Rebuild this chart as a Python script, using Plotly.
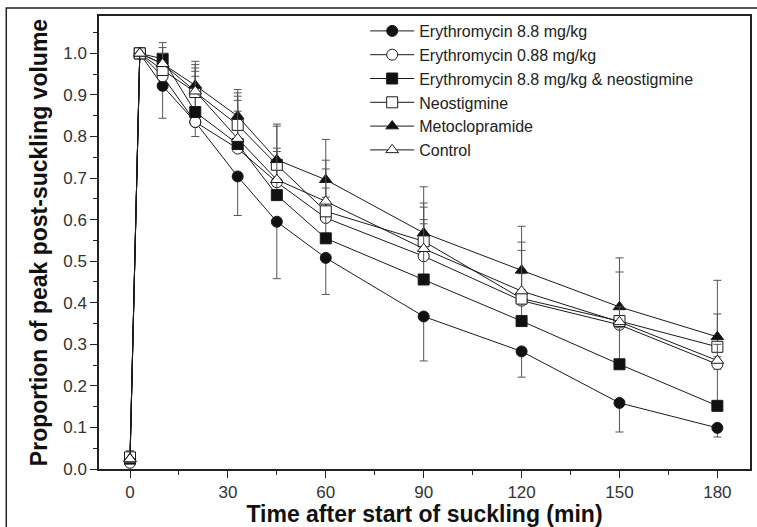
import plotly.graph_objects as go

times = [0, 3, 10, 20, 33, 45, 60, 90, 120, 150, 180]

names = ["Erythromycin 8.8 mg/kg", "Erythromycin 0.88 mg/kg",
         "Erythromycin 8.8 mg/kg & neostigmine", "Neostigmine",
         "Metoclopramide", "Control"]

ery88 = [0.020, 1.0, 0.922, 0.835, 0.704, 0.595, 0.508, 0.367, 0.283, 0.159, 0.099]
ery88_err_lo = [0.010, 0, 0.078, 0.035, 0.094, 0.137, 0.088, 0.107, 0.062, 0.070, 0.022]

ery088 = [0.015, 1.0, 0.945, 0.835, 0.771, 0.690, 0.604, 0.512, 0.405, 0.347, 0.252]
ery088_err_hi = [0.010, 0, 0.015, 0.110, 0.090, 0.055, 0.072, 0.088, 0.026, 0.013, 0.018]

eryneo = [0.025, 1.0, 0.987, 0.859, 0.782, 0.659, 0.555, 0.456, 0.356, 0.252, 0.152]
eryneo_err_hi = [0.015, 0, 0.039, 0.098, 0.105, 0.105, 0.099, 0.134, 0.114, 0.088, 0.088]

neo = [0.028, 1.0, 0.960, 0.907, 0.828, 0.732, 0.620, 0.548, 0.410, 0.356, 0.294]
neo_err_hi = [0.015, 0, 0.020, 0.066, 0.077, 0.093, 0.123, 0.092, 0.116, 0.118, 0.079]

meto = [0.025, 1.0, 0.975, 0.923, 0.849, 0.744, 0.696, 0.568, 0.478, 0.390, 0.318]
meto_err_hi = [0.018, 0, 0.039, 0.058, 0.064, 0.086, 0.097, 0.111, 0.106, 0.118, 0.136]

ctrl = [0.024, 1.0, 0.975, 0.909, 0.795, 0.696, 0.644, 0.530, 0.428, 0.354, 0.261]
ctrl_err_hi = [0.019, 0, 0.025, 0.056, 0.102, 0.076, 0.078, 0.100, 0.118, 0.036, 0.039]

zeros = [0] * len(times)

series = [
    (names[0], ery88, zeros, ery88_err_lo, "circle", "#111111"),
    (names[1], ery088, ery088_err_hi, zeros, "circle", "white"),
    (names[2], eryneo, eryneo_err_hi, zeros, "square", "#111111"),
    (names[3], neo, neo_err_hi, zeros, "square", "white"),
    (names[4], meto, meto_err_hi, zeros, "triangle-up", "#111111"),
    (names[5], ctrl, ctrl_err_hi, zeros, "triangle-up", "white"),
]

FONT = "Arial, Liberation Sans, Helvetica, sans-serif"

fig = go.Figure()
for name, vals, hi, lo, sym, fill in series:
    fig.add_trace(go.Scatter(
        x=times, y=vals, name=name, mode="lines+markers",
        line=dict(color="#1a1a1a", width=1),
        marker=dict(symbol=sym, size=11, color=fill,
                    line=dict(color="#1a1a1a", width=1)),
        error_y=dict(type="data", symmetric=False, array=hi, arrayminus=lo,
                     color="#555555", thickness=1, width=4),
        cliponaxis=False,
    ))

W, H = 757, 527
L, R, T, B = 99, 5, 16, 58
pw, ph = W - L - R, H - T - B

def px_x(p):
    return (p - L) / pw

def px_y(p):
    return (H - B - p) / ph

fig.add_shape(type="rect", xref="paper", yref="paper",
              x0=px_x(6), x1=px_x(765), y0=px_y(535), y1=px_y(8),
              line=dict(color="#222222", width=1.5), fillcolor="rgba(0,0,0,0)",
              layer="below")

fig.update_layout(
    width=W, height=H,
    margin=dict(l=L, r=R, t=T, b=B),
    paper_bgcolor="white", plot_bgcolor="white",
    font=dict(family=FONT, color="#222222", size=16),
    showlegend=True,
    legend=dict(x=px_x(366), y=px_y(14), xanchor="left", yanchor="top",
                bgcolor="rgba(0,0,0,0)", borderwidth=0,
                font=dict(family=FONT, size=16, color="#222222"),
                itemwidth=44, tracegroupgap=0),
    xaxis=dict(
        range=[-9.5, 190], tickmode="array",
        tickvals=[0, 30, 60, 90, 120, 150, 180],
        ticks="outside", ticklen=7, tickwidth=1.2, tickcolor="#222222",
        minor=dict(tickvals=[15, 45, 75, 105, 135, 165], ticks="outside",
                   ticklen=4, tickwidth=1, tickcolor="#222222"),
        showline=True, linecolor="#222222", linewidth=1.5, mirror=True,
        showgrid=False, zeroline=False,
        tickfont=dict(size=17, color="#333333"),
        title=dict(text="<b>Time after start of suckling (min)</b>",
                   font=dict(size=23, color="#111111"), standoff=1),
    ),
    yaxis=dict(
        range=[0, 1.09], tickmode="array",
        tickvals=[0, 0.1, 0.2, 0.3, 0.4, 0.5, 0.6, 0.7, 0.8, 0.9, 1.0],
        ticktext=["0.0", "0.1", "0.2", "0.3", "0.4", "0.5", "0.6", "0.7", "0.8", "0.9", "1.0"],
        ticks="outside", ticklen=7, tickwidth=1.2, tickcolor="#222222",
        minor=dict(tickvals=[0.05, 0.15, 0.25, 0.35, 0.45, 0.55, 0.65, 0.75, 0.85, 0.95, 1.05],
                   ticks="outside", ticklen=4, tickwidth=1, tickcolor="#222222"),
        showline=True, linecolor="#222222", linewidth=1.5, mirror=True,
        showgrid=False, zeroline=False,
        tickfont=dict(size=17, color="#333333"),
        title=dict(text="<b>Proportion of peak post-suckling volume</b>",
                   font=dict(size=23, color="#111111"), standoff=9),
    ),
)

fig.write_html("out.html")
